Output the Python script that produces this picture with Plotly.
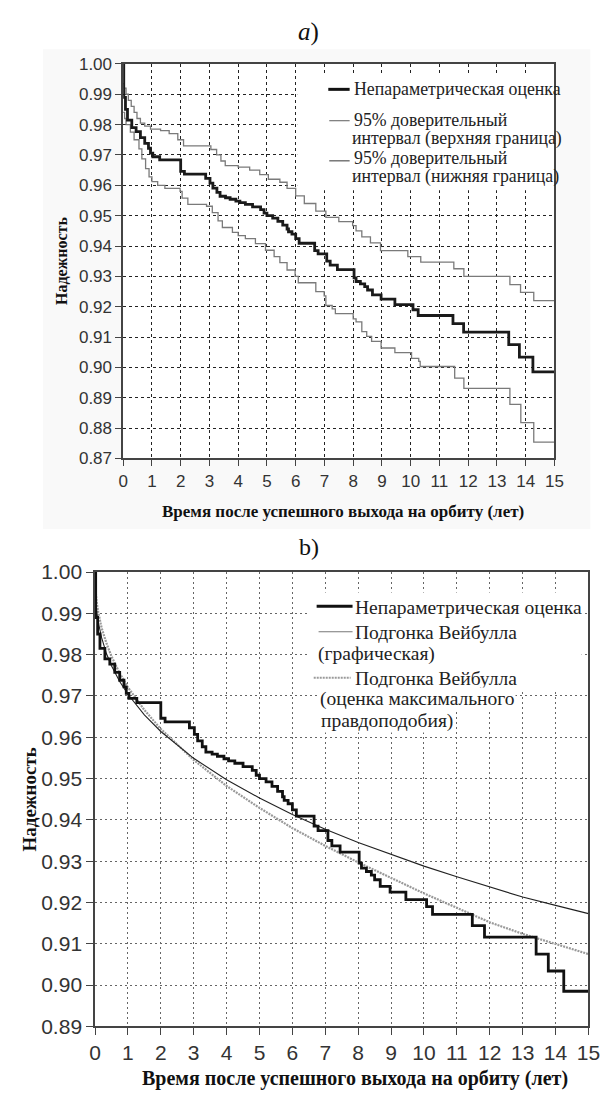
import plotly.graph_objects as go

W, H = 615, 1101

# ---------------- data ----------------
KM_T = [0, 0.02, 0.08, 0.15, 0.3, 0.45, 0.6, 0.75, 0.88, 0.95, 1.03, 1.27, 2.0, 2.13, 2.87,
        3.02, 3.12, 3.26, 3.37, 3.56, 3.72, 3.92, 4.06, 4.25, 4.5, 4.78, 4.9, 5.0, 5.2, 5.38,
        5.55, 5.7, 5.75, 5.87, 6.0, 6.12, 6.66, 6.78, 7.08, 7.2, 7.45, 8.03, 8.1, 8.25, 8.4,
        8.5, 8.67, 8.97, 9.45, 10.08, 10.26, 11.47, 11.84, 13.41, 13.78, 14.25, 15.0]
KM_R = [1.000, 0.9890, 0.9850, 0.9815, 0.9790, 0.9777, 0.9757, 0.9738, 0.9722, 0.9706, 0.9694,
        0.9684, 0.9646, 0.9637, 0.9623, 0.9607, 0.9591, 0.9577, 0.9564, 0.9559, 0.9554, 0.9548,
        0.9543, 0.9537, 0.9529, 0.9520, 0.9508, 0.9500, 0.9492, 0.9481, 0.9469, 0.9456, 0.9447,
        0.9439, 0.9424, 0.9409, 0.9385, 0.9374, 0.9350, 0.9337, 0.9322, 0.9295, 0.9283, 0.9275,
        0.9266, 0.9255, 0.9239, 0.9225, 0.9207, 0.9190, 0.9171, 0.9144, 0.9116, 0.9075, 0.9034,
        0.8985, 0.8985]

UP_T = [0.0, 0.04, 0.1, 0.18, 0.28, 0.38, 0.48, 0.6, 0.75, 0.95, 1.3, 1.6, 1.9, 2.1, 3.05, 3.25,
        3.4, 3.55, 4.0, 4.4, 4.75, 5.05, 5.45, 5.7, 6.0, 6.3, 6.7, 7.05, 7.5, 7.98, 8.1, 8.3, 8.6,
        8.95, 9.9, 10.35, 11.5, 11.85, 13.45, 13.82, 14.28, 15.0]
UP_R = [0.9935, 0.9920, 0.9900, 0.9880, 0.9860, 0.9840, 0.9820, 0.9805, 0.9795, 0.9785, 0.9780,
        0.9770, 0.9750, 0.9730, 0.9718, 0.9700, 0.9680, 0.9665, 0.9660, 0.9650, 0.9635, 0.9620,
        0.9610, 0.9590, 0.9565, 0.9540, 0.9515, 0.9494, 0.9480, 0.9467, 0.9450, 0.9430, 0.9410,
        0.9385, 0.9365, 0.9347, 0.9325, 0.9300, 0.9273, 0.9247, 0.9220, 0.9220]

LO_T = [0.0, 0.05, 0.1, 0.25, 0.38, 0.55, 0.65, 0.78, 0.9, 1.0, 1.2, 1.45, 1.98, 2.05, 2.25, 2.9,
        3.1, 3.3, 3.45, 3.8, 4.0, 4.25, 4.6, 4.95, 5.25, 5.45, 5.7, 5.98, 6.09, 6.7, 6.99, 7.05,
        7.27, 7.38, 8.0, 8.1, 8.3, 8.47, 8.64, 8.97, 9.45, 10.03, 10.28, 10.33, 11.53, 11.85,
        13.45, 13.83, 14.28, 15.0]
LO_R = [0.9840, 0.9820, 0.9800, 0.9775, 0.9750, 0.9720, 0.9687, 0.9655, 0.9628, 0.9612, 0.9600,
        0.9590, 0.9580, 0.9558, 0.9537, 0.9531, 0.9510, 0.9483, 0.9461, 0.9445, 0.9434, 0.9424,
        0.9408, 0.9386, 0.9365, 0.9345, 0.9321, 0.9300, 0.9279, 0.9250, 0.9236, 0.9204, 0.9193,
        0.9177, 0.9160, 0.9150, 0.9118, 0.9102, 0.9086, 0.9064, 0.9049, 0.9030, 0.9020, 0.9003,
        0.8965, 0.8931, 0.8878, 0.8818, 0.8754, 0.8754]

WB_T = [0, 0.01, 0.03, 0.06, 0.1, 0.2, 0.35, 0.5, 0.75, 1, 1.5, 2, 3, 4, 5, 6, 7, 8, 9, 10, 11,
        12, 13, 14, 15]
WB_GRAPH = [1.0, 0.995, 0.9924, 0.990, 0.9878, 0.9841, 0.9802, 0.9773, 0.9735, 0.9704, 0.9654,
            0.9614, 0.9549, 0.9497, 0.9453, 0.9413, 0.9377, 0.9345, 0.9316, 0.9288, 0.9262,
            0.9238, 0.9213, 0.9193, 0.9173]
WB_MLE = [1.0, 0.9965, 0.9943, 0.9922, 0.9902, 0.9865, 0.9827, 0.9796, 0.9755, 0.9721, 0.9666,
          0.9620, 0.9545, 0.9482, 0.9429, 0.9380, 0.9337, 0.9297, 0.9259, 0.9222, 0.9187,
          0.9152, 0.9124, 0.9099, 0.9075]

X_TICKS = list(range(0, 16))
YA_TICKS = [0.87, 0.88, 0.89, 0.90, 0.91, 0.92, 0.93, 0.94, 0.95, 0.96, 0.97, 0.98, 0.99, 1.00]
YB_TICKS = [0.89, 0.90, 0.91, 0.92, 0.93, 0.94, 0.95, 0.96, 0.97, 0.98, 0.99, 1.00]

TITLE_A = "<i>a</i>)"
TITLE_B = "b)"
XTITLE = "Время после успешного выхода на орбиту (лет)"
YTITLE = "Надежность"
LEG_A = ["Непараметрическая оценка", "95% доверительный", "интервал (верхняя граница)",
         "95% доверительный", "интервал (нижняя граница)"]
LEG_B = ["Непараметрическая оценка", "Подгонка Вейбулла", "(графическая)",
         "Подгонка Вейбулла", "(оценка максимального", "правдоподобия)"]

# ---------------- helpers ----------------
def px(x):
    return x / W

def py(y):
    return 1 - y / H

SANS = "Liberation Sans, Arial, sans-serif"
SERIF = "Liberation Serif, Times New Roman, serif"

# plot areas (pixels)
A = dict(x0=120.7, x1=565, y0=53, y1=456)
B = dict(x0=91.7, x1=600, y0=572, y1=1036)

fig = go.Figure()

# chart a traces
fig.add_trace(go.Scatter(x=UP_T, y=UP_R, mode="lines", line=dict(color="#7a7a7a", width=1.3, shape="hv"),
                         xaxis="x", yaxis="y", showlegend=False))
fig.add_trace(go.Scatter(x=LO_T, y=LO_R, mode="lines", line=dict(color="#7a7a7a", width=1.3, shape="hv"),
                         xaxis="x", yaxis="y", showlegend=False))
fig.add_trace(go.Scatter(x=KM_T, y=KM_R, mode="lines", line=dict(color="#1a1a1a", width=2.8, shape="hv"),
                         xaxis="x", yaxis="y", showlegend=False))

# chart b traces
fig.add_trace(go.Scatter(x=WB_T, y=WB_MLE, mode="lines", line=dict(color="#9a9a9a", width=2.2, dash="2px,1px"),
                         xaxis="x2", yaxis="y2", showlegend=False))
fig.add_trace(go.Scatter(x=WB_T, y=WB_GRAPH, mode="lines", line=dict(color="#222222", width=1.1),
                         xaxis="x2", yaxis="y2", showlegend=False))
fig.add_trace(go.Scatter(x=KM_T, y=KM_R, mode="lines", line=dict(color="#111111", width=2.8, shape="hv"),
                         xaxis="x2", yaxis="y2", showlegend=False))

axis_common = dict(showline=True, mirror=True, linecolor="#444", linewidth=1.5,
                   ticks="outside", tickcolor="#444", zeroline=False)

fig.update_layout(
    width=W, height=H, margin=dict(l=0, r=0, t=0, b=0),
    paper_bgcolor="white", plot_bgcolor="white", showlegend=False,
    xaxis=dict(domain=[px(A["x0"]), px(A["x1"])], range=[0, 15], tickvals=X_TICKS,
               anchor="y", showgrid=True, gridcolor="#222", griddash="3px,3px", gridwidth=1,
               ticklen=6, tickfont=dict(family=SANS, size=17, color="#333"), **axis_common),
    yaxis=dict(domain=[py(A["y1"]), py(A["y0"])], range=[0.87, 1.0], tickvals=YA_TICKS,
               tickformat=".2f", anchor="x", showgrid=True, gridcolor="#222", griddash="3px,3px",
               gridwidth=1, ticklen=6, tickfont=dict(family=SANS, size=17, color="#333"), **axis_common),
    xaxis2=dict(domain=[px(B["x0"]), px(B["x1"])], range=[0, 15], tickvals=X_TICKS,
                anchor="y2", showgrid=True, gridcolor="#666", griddash="2px,3px", gridwidth=1,
                ticklen=7, tickfont=dict(family=SANS, size=21, color="#333"), **axis_common),
    yaxis2=dict(domain=[py(B["y1"]), py(B["y0"])], range=[0.89, 1.0], tickvals=YB_TICKS,
                tickformat=".2f", anchor="x2", showgrid=True, gridcolor="#666", griddash="2px,3px",
                gridwidth=1, ticklen=7, tickfont=dict(family=SANS, size=21, color="#333"), **axis_common),
)

shapes = []
# light gray backdrop of panel a, with white plot area on top
shapes.append(dict(type="rect", xref="paper", yref="paper", x0=px(38), x1=px(602), y0=py(528), y1=py(38),
                   fillcolor="#f9f9f9", line=dict(width=0), layer="below"))
shapes.append(dict(type="rect", xref="paper", yref="paper", x0=px(A["x0"]), x1=px(A["x1"]),
                   y0=py(A["y1"]), y1=py(A["y0"]), fillcolor="white", line=dict(width=0), layer="below"))
# legend backgrounds
shapes.append(dict(type="rect", xref="paper", yref="paper", x0=px(300), x1=px(A["x1"] - 1),
                   y0=py(182), y1=py(64), fillcolor="white", line=dict(width=0), layer="above"))
shapes.append(dict(type="rect", xref="paper", yref="paper", x0=px(313), x1=px(593),
                   y0=py(692), y1=py(593), fillcolor="white", line=dict(width=0), layer="above"))

# legend symbols a
shapes.append(dict(type="line", xref="paper", yref="paper", x0=px(332), x1=px(354), y0=py(79), y1=py(79),
                   line=dict(color="#111", width=3)))
shapes.append(dict(type="line", xref="paper", yref="paper", x0=px(333), x1=px(354), y0=py(111), y1=py(111),
                   line=dict(color="#777", width=1.2)))
shapes.append(dict(type="line", xref="paper", yref="paper", x0=px(333), x1=px(354), y0=py(152), y1=py(152),
                   line=dict(color="#555", width=1.2)))
# legend symbols b
shapes.append(dict(type="line", xref="paper", yref="paper", x0=px(320), x1=px(357), y0=py(607), y1=py(607),
                   line=dict(color="#111", width=3)))
shapes.append(dict(type="line", xref="paper", yref="paper", x0=px(322), x1=px(357), y0=py(633), y1=py(633),
                   line=dict(color="#777", width=1.1)))
shapes.append(dict(type="line", xref="paper", yref="paper", x0=px(317), x1=px(355), y0=py(680), y1=py(680),
                   line=dict(color="#9a9a9a", width=2, dash="2px,1px")))
fig.update_layout(shapes=shapes)

ann = []
def text(x, y, s, size, family=SERIF, xanchor="left", color="#222", bg=None, angle=0):
    d = dict(x=px(x), y=py(y), xref="paper", yref="paper", text=s, showarrow=False,
             xanchor=xanchor, yanchor="middle", textangle=angle,
             font=dict(family=family, size=size, color=color), borderpad=0)
    if bg:
        d["bgcolor"] = bg
    ann.append(d)

# titles
text(312, 20, TITLE_A, 25, xanchor="center", color="#111")
text(312, 546, TITLE_B, 24, xanchor="center", color="#111")
# axis titles
text(347, 510, "<b>" + XTITLE + "</b>", 17, xanchor="center", color="#111")
text(360, 1089, "<b>" + XTITLE + "</b>", 20, xanchor="center", color="#111")
text(57, 254, "<b>" + YTITLE + "</b>", 16, xanchor="center", color="#111", angle=-90)
text(24, 804, "<b>" + YTITLE + "</b>", 19, xanchor="center", color="#111", angle=-90)

# legend text a
text(357, 79, LEG_A[0], 17.8)
text(357, 110, LEG_A[1], 17.8)
text(355, 129, LEG_A[2], 17.8)
text(357, 149, LEG_A[3], 17.8)
text(355, 168, LEG_A[4], 17.8)
# legend text b
text(358, 608, LEG_B[0], 19.5)
text(358, 634, LEG_B[1], 19.5)
text(320, 656, LEG_B[2], 19.5)
text(359, 681, LEG_B[3], 19.5, bg="white")
text(322, 702, LEG_B[4], 19.5, bg="white")
text(323, 724, LEG_B[5], 19.5, bg="white")

fig.update_layout(annotations=ann)

fig.write_html("out.html")
